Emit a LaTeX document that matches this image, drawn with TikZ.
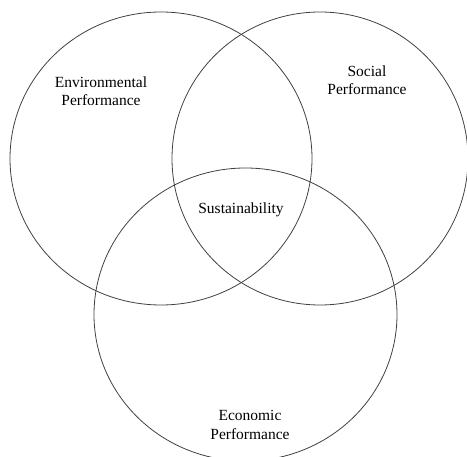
\documentclass[tikz,border=0pt]{standalone}
\usepackage{fontspec}
\setmainfont{Liberation Serif}
\begin{document}
\begin{tikzpicture}[x=1pt,y=-1pt,
  ring/.style={draw=black!75,line width=0.8pt},
  lbl/.style={align=center,inner sep=0pt,font=\fontsize{15.5}{18.5}\selectfont}]
\useasboundingbox (0,0) rectangle (467,457);
\draw[ring] (161,158.5) ellipse [x radius=151, y radius=146.5];
\draw[ring] (320,158.5) ellipse [x radius=148, y radius=146.5];
\draw[ring] (245.5,314.5) ellipse [x radius=151.5, y radius=146.5];
\node[lbl] (env) at (101,91) {Environmental\\Performance};
\node[lbl] (soc) at (367,80) {Social\\Performance};
\node[lbl] (sus) at (241,210) {Sustainability};
\node[lbl] (eco) at (250,425) {Economic\\Performance};
\end{tikzpicture}
\end{document}
